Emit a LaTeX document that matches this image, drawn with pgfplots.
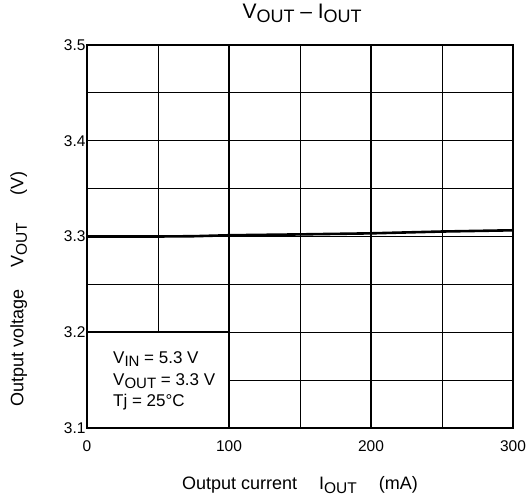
\documentclass[border=0pt]{standalone}
\usepackage{fontspec}
\setmainfont{Liberation Sans}
\usepackage{pgfplots}
\pgfplotsset{compat=1.18}
\newcommand{\sub}[2][15]{\raisebox{-0.35ex}{\fontsize{#1}{#1}\selectfont #2}}
\begin{document}
\begin{tikzpicture}
\useasboundingbox (-87pt,-75pt) rectangle (442pt,428pt);
\begin{axis}[
  scale only axis,
  width=426pt, height=383pt,
  xmin=0, xmax=300, ymin=3.1, ymax=3.5,
  xtick={0,100,200,300},
  ytick={3.1,3.2,3.3,3.4,3.5},
  yticklabels={3.1,3.2,3.3,3.4,3.5},
  minor xtick={50,150,250},
  minor ytick={3.15,3.25,3.35,3.45},
  grid=both,
  major grid style={black, line width=1.2pt},
  minor grid style={black, line width=1.0pt},
  major tick length=0pt, minor tick length=0pt,
  axis line style={black, line width=2.0pt},
  /pgf/number format/assume math mode=true,
  ticklabel style={font=\fontsize{15.5}{17}\selectfont},
  xticklabel style={yshift=-9pt},
  yticklabel style={xshift=2pt},
  title={V\sub[18]{OUT} -- I\sub[18]{OUT}},
  title style={font=\fontsize{21}{23}\selectfont, at={(axis description cs:0.505,1.068)}, anchor=center},
  xlabel={Output current\hspace{22pt}I\sub[15.5]{OUT}\hspace{22pt}(mA)},
  ylabel={Output voltage\hspace{22pt}V\sub[15.5]{OUT}\hspace{28pt}(V)},
  label style={font=\fontsize{18}{20}\selectfont},
  xlabel style={at={(axis description cs:0.5,-0.149)}, anchor=center},
  ylabel style={at={(axis description cs:-0.16,0.363)}, anchor=center},
]
\addplot[fill=white, draw=black, line width=1.6pt] coordinates {(0,3.1) (100,3.1) (100,3.2) (0,3.2)} -- cycle;
\addplot[black, line width=2.6pt] coordinates {
 (0,3.300) (25,3.300) (50,3.300) (75,3.3003) (100,3.3013) (150,3.3022) (200,3.3033) (250,3.3052) (300,3.3065)};
\node[anchor=west, inner sep=0pt, font=\fontsize{17}{19}\selectfont] at (axis cs:18.3,3.172) {V\sub{IN} = 5.3 V};
\node[anchor=west, inner sep=0pt, font=\fontsize{17}{19}\selectfont] at (axis cs:18.3,3.149) {V\sub{OUT} = 3.3 V};
\node[anchor=west, inner sep=0pt, font=\fontsize{17}{19}\selectfont] at (axis cs:18.3,3.127) {Tj = 25°C};
\end{axis}
\end{tikzpicture}
\end{document}
